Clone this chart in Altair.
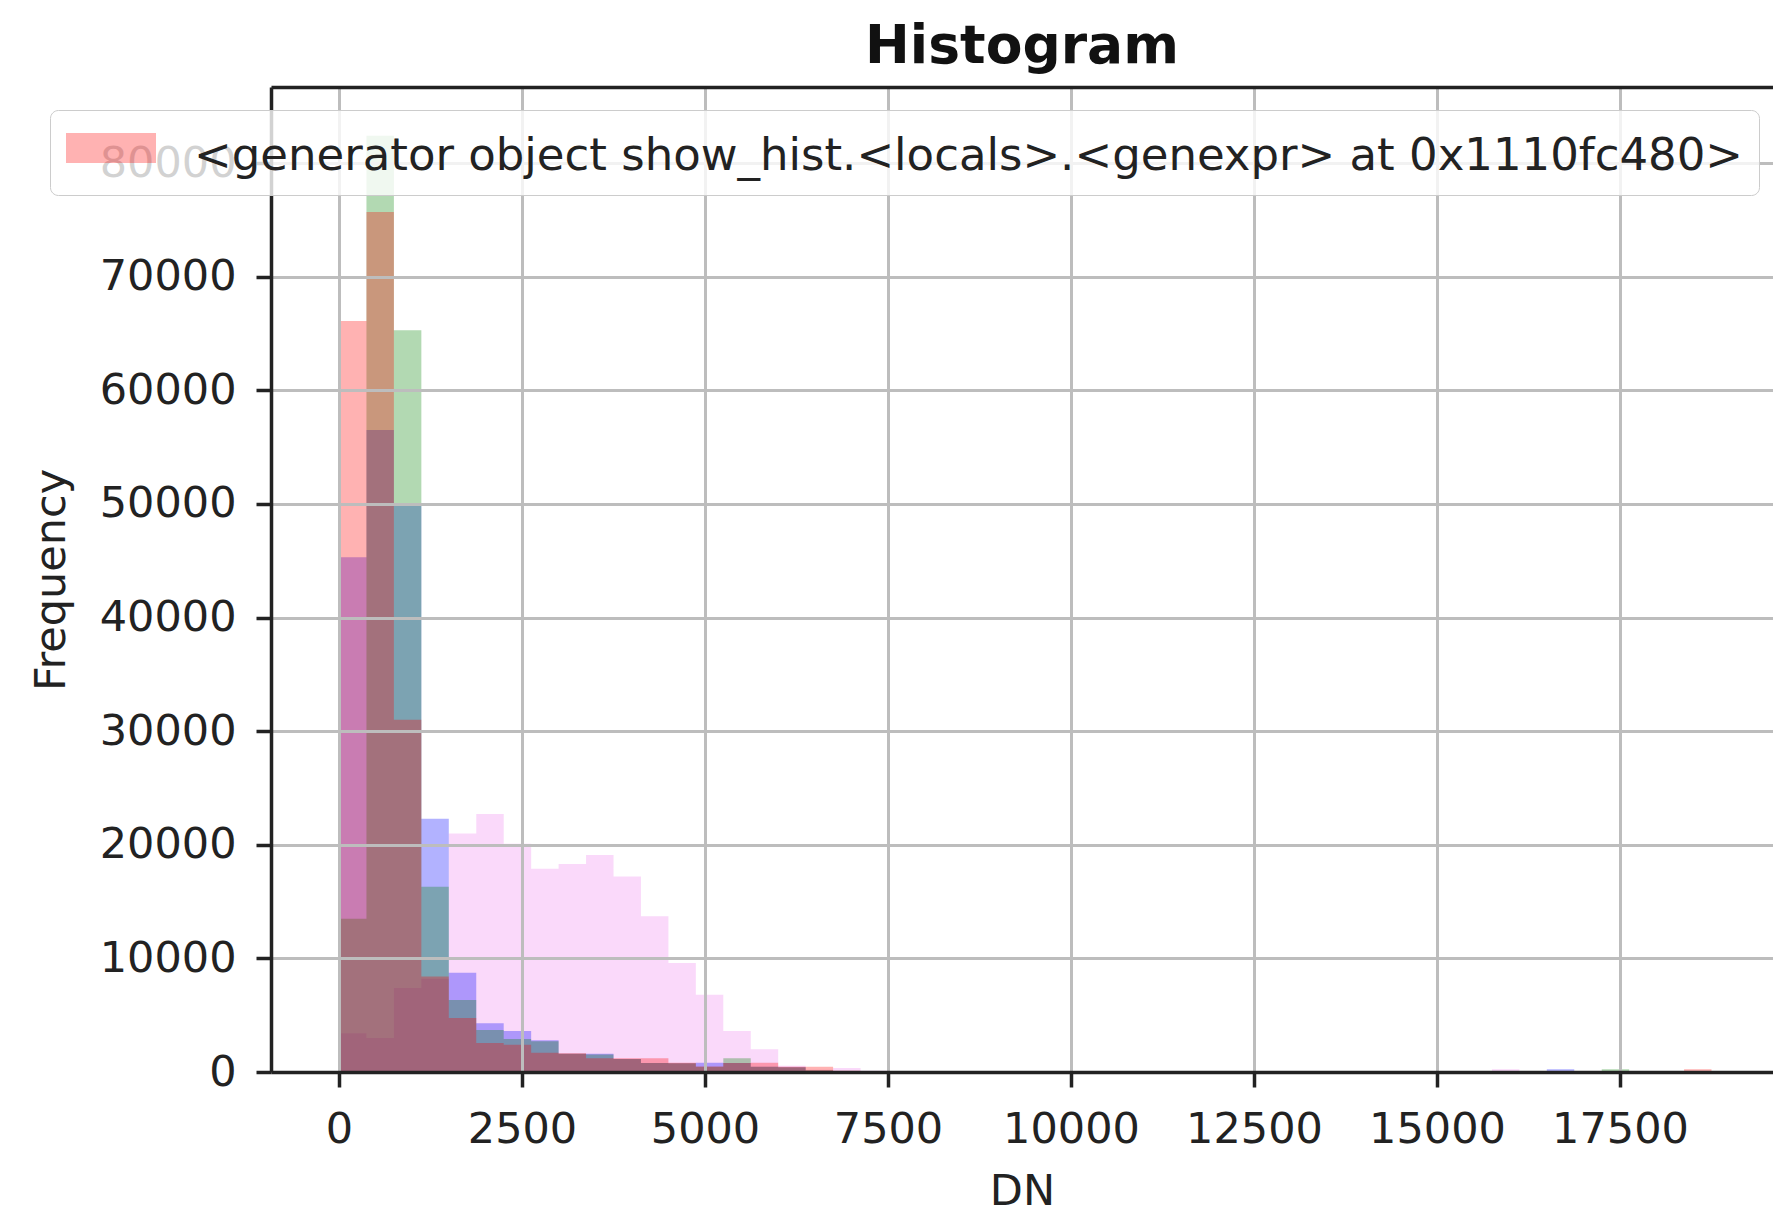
import altair as alt
import pandas as pd

# ---- data (50 shared bins of width 375 starting at 0) ----
bin_width = 375
red_counts = [66100, 75700, 31000, 8400, 4750, 2550, 2400, 1700, 1650, 1200,
              1200, 1200, 820, 480, 790, 820, 470, 470, 100, 50,
              0, 0, 0, 0, 0, 0, 0, 0, 0, 0,
              0, 0, 0, 0, 0, 0, 0, 0, 0, 0,
              0, 0, 0, 0, 0, 0, 0, 0, 0, 250]
green_counts = [13500, 82400, 65300, 16300, 6340, 3700, 2900, 2700, 1600, 1550,
                1150, 800, 780, 470, 1200, 470, 420, 150, 50, 0,
                0, 0, 0, 0, 0, 0, 0, 0, 0, 0,
                0, 0, 0, 0, 0, 0, 0, 0, 0, 0,
                0, 0, 0, 0, 0, 0, 250, 0, 0, 0]
blue_counts = [45300, 56500, 49900, 22300, 8740, 4300, 3600, 2800, 1600, 1600,
               1150, 800, 780, 820, 790, 470, 420, 120, 50, 0,
               0, 0, 0, 0, 0, 0, 0, 0, 0, 0,
               0, 0, 0, 0, 0, 0, 0, 0, 0, 0,
               0, 0, 0, 0, 250, 0, 0, 0, 0, 0]
violet_counts = [3400, 3000, 7400, 8200, 21000, 22700, 20100, 17900, 18300, 19100,
                 17200, 13700, 9600, 6800, 3600, 2000, 550, 200, 350, 100,
                 0, 0, 0, 0, 0, 0, 0, 0, 0, 0,
                 0, 0, 0, 0, 0, 0, 0, 0, 0, 0,
                 0, 0, 250, 0, 0, 0, 0, 0, 0, 0]
series_names = ["red", "green", "blue", "violet"]
series_counts = [red_counts, green_counts, blue_counts, violet_counts]
legend_label = "<generator object show_hist.<locals>.<genexpr> at 0x1110fc480>"

x_ticks = [0, 2500, 5000, 7500, 10000, 12500, 15000, 17500]
y_ticks = [0, 10000, 20000, 30000, 40000, 50000, 60000, 70000, 80000]
x_domain = [-929, 19590]
y_domain = [0, 86700]

FONT = "DejaVu Sans"
W, H = 1502, 985


def series_frame(name, counts):
    rows = []
    for i, c in enumerate(counts):
        rows.append({"series": name, "dn": i * bin_width, "freq": c, "label": legend_label})
    rows.append({"series": name, "dn": len(counts) * bin_width, "freq": counts[-1], "label": legend_label})
    return pd.DataFrame(rows)


x_scale = alt.Scale(domain=x_domain, nice=False, zero=False)
y_scale = alt.Scale(domain=y_domain, nice=False)

bottom_axis = alt.Axis(
    orient="bottom", values=x_ticks, format="d", title="DN", grid=True,
    gridColor="#bdbdbd", gridWidth=3, tickSize=15, tickWidth=3.5, tickColor="#222222",
    domainColor="#222222", domainWidth=3.5, labelFontSize=43, titleFontSize=43,
    labelFont=FONT, titleFont=FONT, labelColor="#222222", titleColor="#222222",
    titleFontWeight="normal", labelPadding=21, titlePadding=19, zindex=1,
    labelFlush=False, labelOverlap=False,
)
left_axis = alt.Axis(
    values=y_ticks, format="d", title="Frequency", grid=True,
    gridColor="#bdbdbd", gridWidth=3, tickSize=15, tickWidth=3.5, tickColor="#222222",
    domainColor="#222222", domainWidth=3.5, labelFontSize=43, titleFontSize=43,
    labelFont=FONT, titleFont=FONT, labelColor="#222222", titleColor="#222222",
    titleFontWeight="normal", labelPadding=20, titlePadding=26, zindex=1,
    labelFlush=False, labelOverlap=False,
)
top_axis = alt.Axis(
    orient="top", labels=False, ticks=False, grid=False, title=None,
    domainColor="#222222", domainWidth=3.5, zindex=1,
)

# matplotlib draws the first dataset on top: draw in reverse order
layers = []
for name, counts in reversed(list(zip(series_names, series_counts))):
    df = series_frame(name, counts)
    base = alt.Chart(df).mark_area(interpolate="step-after", opacity=0.3, color=name)
    if name == "red":
        layer = base.encode(
            x=alt.X("dn:Q", scale=x_scale, axis=bottom_axis),
            y=alt.Y("freq:Q", scale=y_scale, axis=left_axis),
            color=alt.Color(
                "label:N",
                scale=alt.Scale(domain=[legend_label], range=["red"]),
                legend=alt.Legend(
                    title=None, orient="none", legendX=-221, legendY=23,
                    labelFontSize=45, labelFont=FONT, labelColor="#222222",
                    labelLimit=3000, symbolType="M-1.5,-0.77H1.5V0.23H-1.5Z",
                    symbolSize=3600, symbolOffset=15, symbolOpacity=0.3,
                    symbolStrokeWidth=0, labelOffset=53, padding=16,
                    cornerRadius=8, fillColor="rgba(255,255,255,0.8)",
                    strokeColor="#cccccc", zindex=2,
                ),
            ),
        )
    else:
        layer = base.encode(
            x=alt.X("dn:Q", scale=x_scale, axis=None),
            y=alt.Y("freq:Q", scale=y_scale, axis=left_axis),
        )
    layers.append(layer)

spine_df = pd.DataFrame({"dn": x_ticks})
top_layer = alt.Chart(spine_df).mark_point(opacity=0).encode(
    x=alt.X("dn:Q", scale=x_scale, axis=top_axis),
)
layers.append(top_layer)

chart = alt.layer(*layers).resolve_axis(x="independent").properties(
    width=W, height=H,
    title=alt.Title("Histogram", fontSize=53.5, font=FONT, fontWeight="bold",
                    color="#111111", anchor="middle", offset=13),
    autosize=alt.AutoSizeParams(type="none"),
    padding={"left": 271, "top": 87, "right": 0, "bottom": 146},
).configure_view(stroke=None).configure(background="white")

chart.save("out.html", embed_options={"renderer": "svg", "actions": False})
